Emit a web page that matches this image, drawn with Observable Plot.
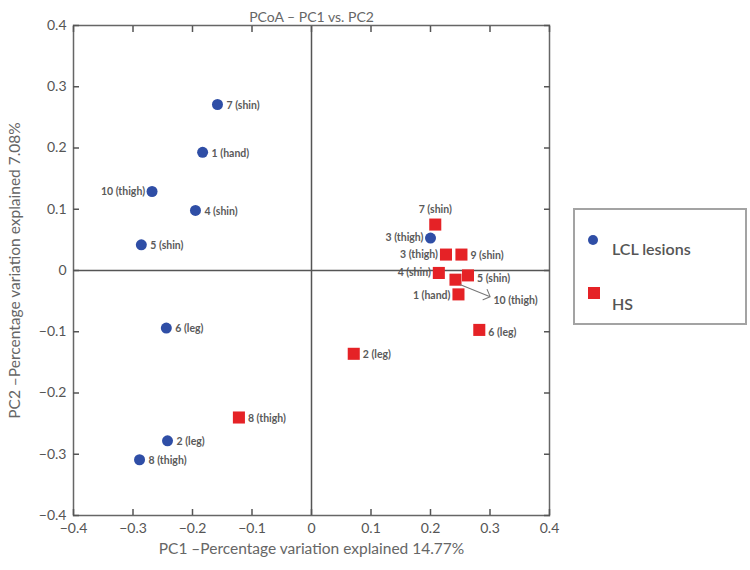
<!DOCTYPE html>
<html><head><meta charset="utf-8">
<script src="https://cdn.jsdelivr.net/npm/d3@7"></script>
<script src="https://cdn.jsdelivr.net/npm/@observablehq/plot@0.6"></script>
<style>
body{margin:0;background:#fff;}
#wrap{position:relative;width:750px;height:570px;}
#legend{position:absolute;left:573px;top:208px;width:174px;height:117px;border:2px solid #a3a3a3;box-sizing:border-box;font-family:Lato,"Open Sans",sans-serif;color:#555;}
#legend .sym{position:absolute;}
#legend .lab{position:absolute;font-size:16px;line-height:16px;font-weight:600;}
</style></head><body><div id="wrap"></div>
<script>
// ---- data ----
const title = "PCoA \u2013 PC1 vs. PC2";
const xTitle = "PC1 \u2013Percentage variation explained 14.77%";
const yTitle = "PC2 \u2013Percentage variation explained 7.08%";
const xTicks = [-0.4, -0.3, -0.2, -0.1, 0, 0.1, 0.2, 0.3, 0.4];
const yTicks = [-0.4, -0.3, -0.2, -0.1, 0, 0.1, 0.2, 0.3, 0.4];
const seriesNames = ["LCL lesions", "HS"];

const lclIds = ["7 (shin)", "1 (hand)", "10 (thigh)", "4 (shin)", "5 (shin)", "6 (leg)", "2 (leg)", "8 (thigh)", "3 (thigh)"];
const lclPC1 = [-0.158, -0.183, -0.268, -0.195, -0.286, -0.244, -0.242, -0.289, 0.200];
const lclPC2 = [0.271, 0.193, 0.129, 0.098, 0.042, -0.094, -0.278, -0.309, 0.053];

const hsIds = ["7 (shin)", "3 (thigh)", "9 (shin)", "4 (shin)", "5 (shin)", "10 (thigh)", "1 (hand)", "6 (leg)", "2 (leg)", "8 (thigh)"];
const hsPC1 = [0.208, 0.226, 0.252, 0.214, 0.263, 0.242, 0.247, 0.282, 0.071, -0.122];
const hsPC2 = [0.075, 0.026, 0.026, -0.004, -0.008, -0.015, -0.039, -0.097, -0.136, -0.240];

// ---- styles ----
const colors = {"LCL lesions": "#2f4ea6", "HS": "#e52226"};
const font = 'Lato, "Open Sans", sans-serif';
const fmt = d3.format("~g");

const lcl = lclIds.map((id, i) => ({group: "LCL lesions", id, pc1: lclPC1[i], pc2: lclPC2[i]}));
const hs = hsIds.map((id, i) => ({group: "HS", id, pc1: hsPC1[i], pc2: hsPC2[i]}));
const all = lcl.concat(hs);

// label placement [textAnchor, dx, dy]
const placement = {
  "LCL lesions|10 (thigh)": ["end", -7, 0],
  "LCL lesions|3 (thigh)": ["end", -7, 0],
  "HS|7 (shin)": ["middle", 0, -15],
  "HS|3 (thigh)": ["end", -8, 0],
  "HS|4 (shin)": ["end", -8, 0],
  "HS|5 (shin)": ["start", 9, 3],
  "HS|1 (hand)": ["end", -8, 1],
  "HS|10 (thigh)": ["start", 38, 21],
  "HS|6 (leg)": ["start", 9, 3]
};
const defaultPlacement = ["start", 9, 1];

const labelMarks = all.map(d => {
  const [anchor, dx, dy] = placement[d.group + "|" + d.id] || defaultPlacement;
  return Plot.text([d], {x: "pc1", y: "pc2", text: "id", textAnchor: anchor, dx, dy,
    fontSize: 10.5, fontWeight: 700, fill: "#5a5a5a"});
});

const axisStyle = {stroke: "#555", strokeWidth: 1.5};

const chart = Plot.plot({
  width: 750, height: 570,
  marginLeft: 73, marginRight: 201, marginTop: 25, marginBottom: 55,
  x: {domain: [-0.4, 0.4], label: null},
  y: {domain: [-0.4, 0.4], label: null},
  style: {fontFamily: font, background: "white", color: "#555", overflow: "visible"},
  marks: [
    Plot.ruleX([0], {stroke: "#555", strokeWidth: 1.5}),
    Plot.ruleY([0], {stroke: "#555", strokeWidth: 1.5}),
    Plot.frame({stroke: "#666", strokeWidth: 1.5}),
    Plot.axisX(xTicks, {anchor: "bottom", tickSize: -6, tickPadding: 14, tickFormat: fmt, fontSize: 14, fill: "#555", label: null, ...axisStyle}),
    Plot.axisX(xTicks, {anchor: "top", tickSize: -6, tickFormat: () => "", label: null, ...axisStyle}),
    Plot.axisY(yTicks, {anchor: "left", tickSize: -6, tickPadding: 13, tickFormat: fmt, fontSize: 14, fill: "#555", label: null, ...axisStyle}),
    Plot.axisY(yTicks, {anchor: "right", tickSize: -6, tickFormat: () => "", label: null, ...axisStyle}),
    Plot.dot(hs, {x: "pc1", y: "pc2", symbol: "square", r: 6.8, fill: colors["HS"]}),
    Plot.dot(lcl, {x: "pc1", y: "pc2", symbol: "circle", r: 5.5, fill: colors["LCL lesions"]}),
    Plot.vector(hs.filter(d => d.id === "10 (thigh)"), {x: "pc1", y: "pc2", length: 32, rotate: 112,
      anchor: "start", dx: 5, dy: 5, r: 3, stroke: "#777", strokeWidth: 1}),
    ...labelMarks,
    Plot.text([title], {text: d => d, frameAnchor: "top", textAnchor: "middle", dy: -13, fontSize: 14, fill: "#666"}),
    Plot.text([xTitle], {text: d => d, frameAnchor: "bottom", textAnchor: "middle", dy: 38, fontSize: 15.5, fill: "#666"}),
    Plot.text([yTitle], {text: d => d, frameAnchor: "left", textAnchor: "middle", dx: -58, rotate: -90, fontSize: 15.5, fill: "#666"})
  ]
});

const wrap = document.getElementById("wrap");
wrap.appendChild(chart);

// legend
const legend = document.createElement("div");
legend.id = "legend";
const legendLayout = [
  {sym: "circle", size: 10, left: 13, top: 25, textLeft: 37, textTop: 31},
  {sym: "square", size: 12, left: 13, top: 77, textLeft: 37, textTop: 86}
];
seriesNames.forEach((name, i) => {
  const L = legendLayout[i];
  const s = document.createElement("div");
  s.className = "sym";
  s.style.cssText = `left:${L.left}px;top:${L.top}px;width:${L.size}px;height:${L.size}px;background:${colors[name]};border-radius:${L.sym === "circle" ? "50%" : "0"}`;
  const t = document.createElement("div");
  t.className = "lab";
  t.style.left = L.textLeft + "px";
  t.style.top = L.textTop + "px";
  t.textContent = name;
  legend.appendChild(s);
  legend.appendChild(t);
});
wrap.appendChild(legend);
</script>
</body></html>
